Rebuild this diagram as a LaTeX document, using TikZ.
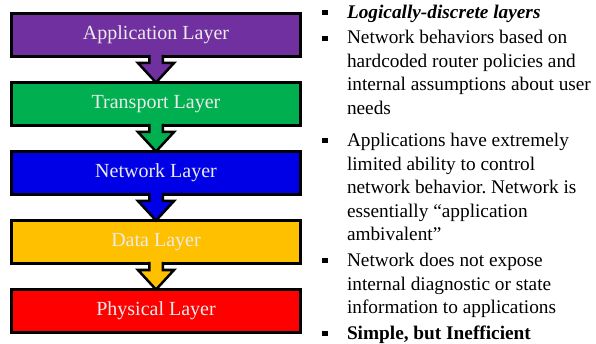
\documentclass[tikz,border=0pt]{standalone}
\usepackage{fontspec}
\setmainfont{Liberation Serif}
\usetikzlibrary{calc}
\frenchspacing

\definecolor{appc}{HTML}{7030A0}
\definecolor{trac}{HTML}{00B050}
\definecolor{netc}{HTML}{0000E6}
\definecolor{datc}{HTML}{FFC000}
\definecolor{phyc}{HTML}{FF0000}
\definecolor{labelc}{HTML}{EBEBEB}

\tikzset{
  layerbox/.style={draw=black, line width=3pt, minimum width=289pt, minimum height=43pt,
    inner sep=0pt, outer sep=0pt, text=labelc, font=\fontsize{20}{24}\selectfont},
  arrowline/.style={draw=black, line width=2.5pt, line join=miter},
  bulletsq/.style={fill=black, minimum size=5.2pt, inner sep=0pt, outer sep=0pt},
  bodytext/.style={anchor=base west, inner sep=0pt, outer sep=0pt, text=black,
    font=\fontsize{19.3}{23}\selectfont},
}

% block arrow from the bottom of one layer to the top of the next
\newcommand\layerarrow[3]{%
  \fill[#3] ($(#1.south)+(-6.75,-2)$) -- ($(#1.south)+(-6.75,6.5)$) -- ($(#1.south)+(-18,6.5)$)
    -- (#2.north) -- ($(#1.south)+(18,6.5)$) -- ($(#1.south)+(6.75,6.5)$) -- ($(#1.south)+(6.75,-2)$) -- cycle;
  \draw[arrowline] ($(#1.south)+(-6.75,-1.5)$) -- ($(#1.south)+(-6.75,6.5)$) -- ($(#1.south)+(-18,6.5)$)
    -- (#2.north) -- ($(#1.south)+(18,6.5)$) -- ($(#1.south)+(6.75,6.5)$) -- ($(#1.south)+(6.75,-1.5)$);
}

\begin{document}
\begin{tikzpicture}[x=1pt, y=-1pt]
\useasboundingbox (0,0) rectangle (596,344);

% protocol stack
\node[layerbox, fill=appc] (app) at (156,35)  {Application Layer};
\node[layerbox, fill=trac] (tra) at (156,104) {Transport Layer};
\node[layerbox, fill=netc] (net) at (156,173) {Network Layer};
\node[layerbox, fill=datc] (dat) at (156,242) {Data Layer};
\node[layerbox, fill=phyc] (phy) at (156,311) {Physical Layer};

\layerarrow{app}{tra}{appc}
\layerarrow{tra}{net}{trac}
\layerarrow{net}{dat}{netc}
\layerarrow{dat}{phy}{datc}

% bullet list
\node[bulletsq] (b1) at (325,12.7)  {};
\node[bulletsq] (b2) at (325,38.2)  {};
\node[bulletsq] (b3) at (325,140.9) {};
\node[bulletsq] (b4) at (325,260.9) {};
\node[bulletsq] (b5) at (325,333.2) {};

\node[bodytext] (t1)  at (347,18.5)  {\textbf{\textit{Logically-discrete layers}}};
\node[bodytext] (t2)  at (347,44)    {Network behaviors based on};
\node[bodytext] (t3)  at (347,67.5)  {hardcoded router policies and};
\node[bodytext] (t4)  at (347,91)    {internal assumptions about user};
\node[bodytext] (t5)  at (347,114.5) {needs};
\node[bodytext] (t6)  at (347,146.7) {Applications have extremely};
\node[bodytext] (t7)  at (347,170.5) {limited ability to control};
\node[bodytext] (t8)  at (347,194)   {network behavior. Network is};
\node[bodytext] (t9)  at (347,217.3) {essentially “application};
\node[bodytext] (t10) at (347,240.7) {ambivalent”};
\node[bodytext] (t11) at (347,266.7) {Network does not expose};
\node[bodytext] (t12) at (347,290)   {internal diagnostic or state};
\node[bodytext] (t13) at (347,313.3) {information to applications};
\node[bodytext] (t14) at (347,339)   {\textbf{Simple, but Inefficient}};
\end{tikzpicture}
\end{document}
